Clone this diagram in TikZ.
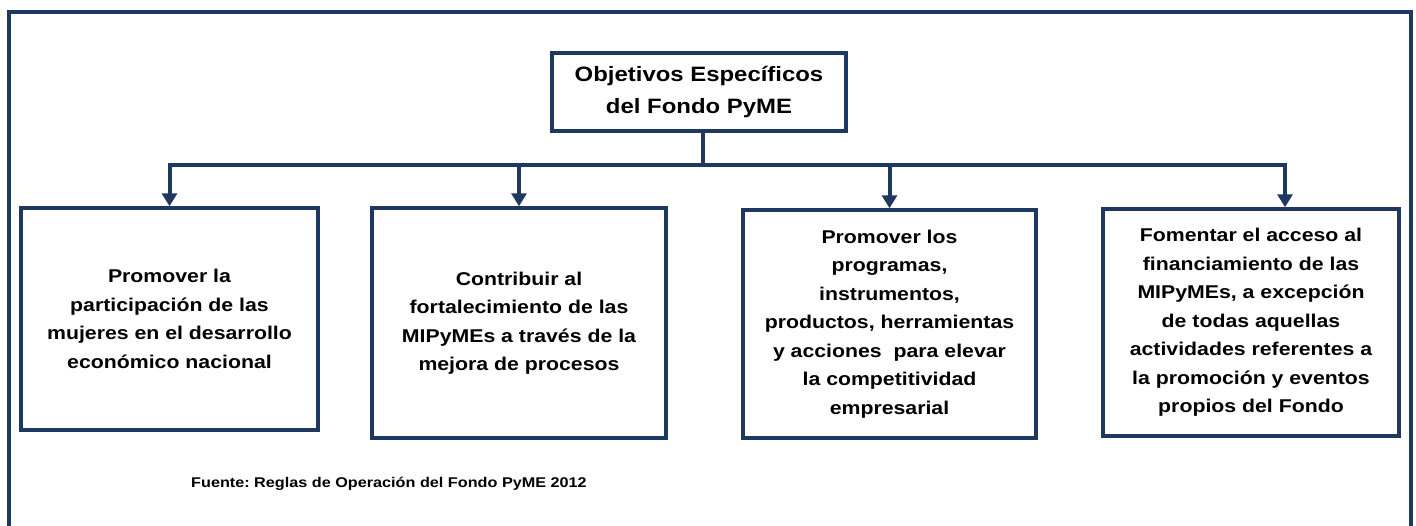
\documentclass[tikz,border=0pt]{standalone}
\usepackage{fontspec}
\setmainfont{Liberation Sans}[FakeStretch=1.15]
\usetikzlibrary{arrows.meta}
\definecolor{navy}{RGB}{31,56,96}
\tikzset{
  frame/.style={draw=navy,line width=4pt},
  objbox/.style={draw=navy,line width=3.5pt,align=center,inner sep=0pt,
    font=\bfseries\fontsize{18.5}{28.5}\selectfont},
  titlebox/.style={draw=navy,line width=3.5pt,align=center,inner sep=0pt,
    minimum width=294pt,minimum height=78pt,
    font=\bfseries\fontsize{20.8}{32}\selectfont},
  conn/.style={draw=navy,line width=4pt},
  tip/.style={-{Triangle[width=15pt,length=13pt]}},
  note/.style={font=\bfseries\fontsize{14.1}{17}\selectfont,anchor=west,inner sep=0pt}
}
\begin{document}
\frenchspacing
\begin{tikzpicture}[x=1pt,y=-1pt]
\useasboundingbox (0,0) rectangle (1416,525);
\fill[white] (0,0) rectangle (1416,525);
% outer frame (bottom edge outside the picture)
\draw[frame] (9,540) -- (9,12) -- (1411,12) -- (1411,540);
% title
\node[titlebox] (t) at (699,92) {Objetivos Específicos\\del Fondo PyME};
% boxes
\node[objbox,minimum width=297pt,minimum height=222pt] (b1) at (169.5,319)
  {Promover la\\participación de las\\mujeres en el desarrollo\\económico nacional};
\node[objbox,minimum width=294pt,minimum height=230pt] (b2) at (519,323)
  {Contribuir al\\fortalecimiento de las\\MIPyMEs a través de la\\mejora de procesos};
\node[objbox,minimum width=293pt,minimum height=228pt] (b3) at (889.5,324)
  {Promover los\\programas,\\instrumentos,\\productos, herramientas\\y acciones~ para elevar\\la competitividad\\empresarial};
\node[objbox,minimum width=296pt,minimum height=227pt] (b4) at (1251,322.5)
  {Fomentar el acceso al\\financiamiento de las\\MIPyMEs, a excepción\\de todas aquellas\\actividades referentes a\\la promoción y eventos\\propios del Fondo};
% connectors
\coordinate (j) at (703,165);
\coordinate (a4) at (1285,165);
\draw[conn] (703,131) -- (j);
\draw[conn,{Triangle[width=15pt,length=13pt]}-{Triangle[width=15pt,length=13pt]}]
  (b1.north) -- (b1.north |- j) -- (a4) -- (a4 |- b4.north);
\draw[conn,tip] (b2.north |- j) -- (b2.north);
\draw[conn,tip] (b3.north |- j) -- (b3.north);
% source
\node[note] (src) at (191,484) {Fuente: Reglas de Operación del Fondo PyME 2012};
\end{tikzpicture}
\end{document}
